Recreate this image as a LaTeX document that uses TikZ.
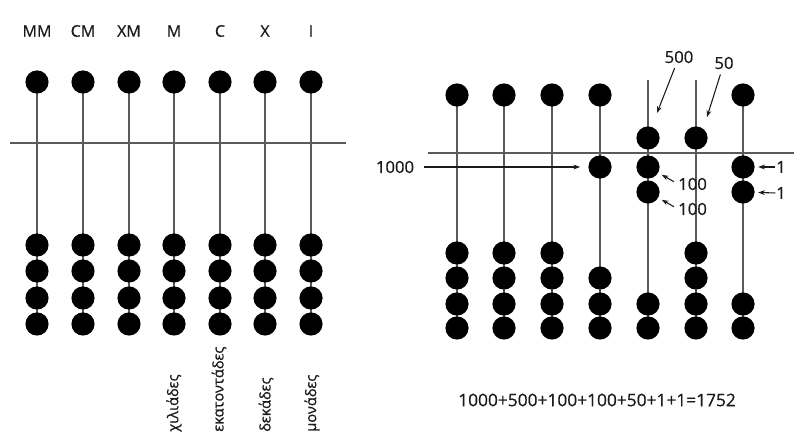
\documentclass[tikz,border=0pt]{standalone}
\usepackage{fontspec}
\setmainfont{Open Sans}[FakeBold=0.6]
\usetikzlibrary{arrows.meta,backgrounds}
\definecolor{ink}{HTML}{1A1A1A}
\definecolor{rodc}{HTML}{5A5A5A}
\begin{document}
\begin{tikzpicture}[x=0.75pt,y=-0.75pt,
  bead/.style={circle,fill=black,inner sep=0pt,minimum size=17.4pt},
  rod/.style={draw=rodc,line width=1.3pt},
  beam/.style={draw=rodc,line width=1.3pt},
  lab/.style={text=ink,font=\fontsize{12}{14}\selectfont,inner sep=0pt},
  num/.style={text=ink,font=\fontsize{12.5}{14}\selectfont,inner sep=0pt},
  gr/.style={text=ink,font=\fontsize{11}{13}\selectfont,inner sep=0pt,rotate=90,anchor=west},
  arr/.style={draw=ink,line width=0.8pt,-{Stealth[length=5pt,width=3.6pt]}}]
\useasboundingbox (0,0) rectangle (794,442);
% ---------------- left abacus ----------------
\coordinate (LbeamA) at (10,143);
\coordinate (LbeamB) at (346,143);
\foreach \x/\t [count=\i] in {37/MM,83/CM,129/XM,174/M,220/C,265/X,311/I} {
  \node[lab] (Ln\i) at (\x,31) {\t};
  \node[bead] (Lt\i) at (\x,82) {};
  \foreach \y [count=\j] in {245,271,298,324}
    \node[bead] (Lb\i-\j) at (\x,\y) {};
  \begin{scope}[on background layer]
    \draw[rod] (Lt\i.center) -- (Lb\i-4.center);
  \end{scope}
}
\draw[beam] (LbeamA) -- (LbeamB);
\node[gr] (g1) at (174,432) {χιλιάδες};
\node[gr] (g2) at (219,432) {εκατοντάδες};
\node[gr] (g3) at (266,432) {δεκάδες};
\node[gr] (g4) at (312,432) {μονάδες};
% ---------------- right abacus ----------------
\coordinate (RbeamA) at (428,153);
\coordinate (RbeamB) at (794,153);
% top beads at rest
\foreach \x/\i in {457/1,504/2,552/3,600/4,743/7}
  \node[bead] (Rt\i) at (\x,95) {};
% top beads moved down
\node[bead] (Rt5) at (648,138) {};
\node[bead] (Rt6) at (696,138) {};
\coordinate (Rtop5) at (648,80);
\coordinate (Rtop6) at (696,80);
% lower beads moved up
\node[bead] (Ru4-1) at (600,167) {};
\node[bead] (Ru5-1) at (648,167) {};
\node[bead] (Ru5-2) at (648,192) {};
\node[bead] (Ru7-1) at (743,167) {};
\node[bead] (Ru7-2) at (743,192) {};
% lower beads at rest
\foreach \x/\i in {457/1,504/2,552/3,696/6}
  \foreach \y [count=\j] in {253,278,304,328}
    \node[bead] (Rb\i-\j) at (\x,\y) {};
\foreach \y [count=\j] in {278,304,328}
  \node[bead] (Rb4-\j) at (600,\y) {};
\foreach \y [count=\j] in {304,328} {
  \node[bead] (Rb5-\j) at (648,\y) {};
  \node[bead] (Rb7-\j) at (743,\y) {};
}
\begin{scope}[on background layer]
  \draw[rod] (Rt1.center) -- (Rb1-4.center);
  \draw[rod] (Rt2.center) -- (Rb2-4.center);
  \draw[rod] (Rt3.center) -- (Rb3-4.center);
  \draw[rod] (Rt4.center) -- (Rb4-3.center);
  \draw[rod] (Rtop5) -- (Rb5-2.center);
  \draw[rod] (Rtop6) -- (Rb6-4.center);
  \draw[rod] (Rt7.center) -- (Rb7-2.center);
\end{scope}
\draw[beam] (RbeamA) -- (RbeamB);
% labels and arrows
\node[num] (t1000) at (395,167) {1000};
\draw[arr,shorten <=7pt,shorten >=6pt] (t1000.east) -- (Ru4-1);
\node[num] (t500) at (679,57) {500};
\coordinate (h500) at (657,113);
\draw[arr,shorten <=9pt] (t500.center) -- (h500);
\node[num] (t50) at (724,63) {50};
\coordinate (h50) at (707,117);
\draw[arr,shorten <=9pt] (t50.center) -- (h50);
\node[num,anchor=west] (t100a) at (678,184) {100};
\node[num,anchor=west] (t100b) at (678,209) {100};
\draw[arr,shorten <=3.5pt,shorten >=3pt] (t100a.west) -- (Ru5-1);
\draw[arr,shorten <=3.5pt,shorten >=3pt] (t100b.west) -- (Ru5-2);
\node[num,anchor=west] (t1a) at (776,167) {1};
\node[num,anchor=west] (t1b) at (776,193) {1};
\draw[arr,shorten <=0.5pt,shorten >=2.5pt] (t1a.west) -- (Ru7-1);
\draw[arr,shorten <=0.5pt,shorten >=2.5pt] (t1b.west) -- (Ru7-2);
\node[num,font=\fontsize{13}{15}\selectfont] (eq) at (597,400) {1000+500+100+100+50+1+1=1752};
\end{tikzpicture}
\end{document}
